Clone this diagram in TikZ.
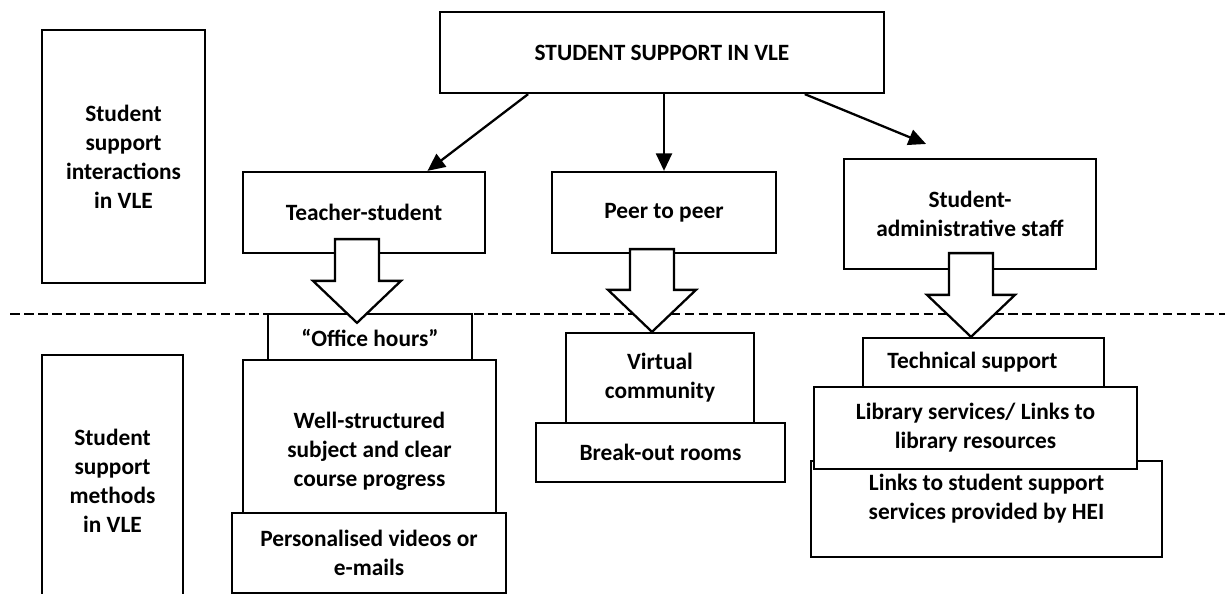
\documentclass[tikz,border=0pt]{standalone}
\usepackage{fontspec}
\setmainfont{Carlito}
\usepackage{tikz}
\usetikzlibrary{arrows.meta, calc, positioning}

\begin{document}
\begin{tikzpicture}[x=0.02cm, y=-0.02cm,
  >={Triangle[length=3.5mm, width=3.2mm]},
  box/.style={draw, fill=white, line width=1.3pt, align=center, inner sep=2pt,
    font=\bfseries\fontsize{13.3}{16.5}\selectfont},
  fat/.style={draw, fill=white, line width=1.3pt,
    to path={let \p1=(\tikztostart), \p2=(\tikztotarget) in
      (\x1-0.44cm,\y1) -- (\x1-0.44cm,\y2+0.84cm) -- (\x1-0.88cm,\y2+0.84cm)
      -- (\x1,\y2) -- (\x1+0.88cm,\y2+0.84cm) -- (\x1+0.44cm,\y2+0.84cm)
      -- (\x1+0.44cm,\y1) -- cycle}}]
  \useasboundingbox (0,0) rectangle (1225,594);
  \draw[line width=1.5pt, dash pattern=on 5.5pt off 2.5pt] (10,314) -- (1225,314);

  \node (Top) [box, minimum width=8.88cm, minimum height=1.62cm] at (662,52.5) {STUDENT SUPPORT IN VLE};
  \node (Inter) [box, minimum width=3.26cm, minimum height=5.06cm] at (123.5,156.5) {Student\\support\\interactions\\in VLE};
  \node (TS) [box, minimum width=4.84cm, minimum height=1.62cm] at (364,212.5) {Teacher-student};
  \node (PP) [box, minimum width=4.48cm, minimum height=1.62cm] at (664,212.5) {Peer to peer};
  \node (SA) [box, minimum width=5.04cm, minimum height=2.2cm] at (970,214) {Student-\\administrative staff};
  \node (Meth) [box, minimum width=2.82cm, minimum height=5.04cm] at (112.5,481) {Student\\support\\methods\\in VLE};
  \node (Office) [box, minimum width=4.08cm, minimum height=0.94cm] at (370,337.5) {“Office hours”};
  \node (Struct) [box, minimum width=5.06cm, minimum height=3.06cm] at (369.5,436.5) {\strut\\[-2pt]Well-structured\\subject and clear\\course progress};
  \node (Video) [box, minimum width=5.48cm, minimum height=1.6cm] at (369,553) {Personalised videos or\\e-mails};
  \node (VComm) [box, minimum width=3.76cm, minimum height=1.8cm] at (660,378) {Virtual\\community};
  \node (Breakout) [box, minimum width=4.98cm, minimum height=1.18cm] at (660.5,452.5) {Break-out rooms};
  \node (Tech) [box, minimum width=4.82cm, minimum height=0.98cm] at (983.5,362.5) {Technical support\hspace*{0.44cm}};
  \node (HEI) [box, minimum width=7.02cm, minimum height=1.92cm] at (986.5,509) {Links to student support\\services provided by HEI\\[-8pt]\strut};
  \node (Lib) [box, minimum width=6.46cm, minimum height=1.64cm] at (975.5,428) {Library services/ Links to\\library resources};

  \draw[fat] ([shift={(-7,-15)}]TS.south) to ([shift={(0,10)}]Office.north);
  \draw[fat] ([shift={(-12,-5)}]PP.south) to (VComm.north);
  \draw[fat] ([shift={(1,-17)}]SA.south) to (Tech.north);

  \draw[->, line width=1.3pt] ($(Top.south west)!.2!(Top.south east)$) -- ($(TS.north west)!.76!(TS.north east)$);
  \draw[->, line width=1.3pt] (Top.south -| PP.north) -- (PP.north);
  \draw[->, line width=1.3pt, shorten >=0.73cm] ($(Top.south west)!.82!(Top.south east)$) -- ($(SA.north west)!.46!(SA.north east)$);
\end{tikzpicture}
\end{document}
